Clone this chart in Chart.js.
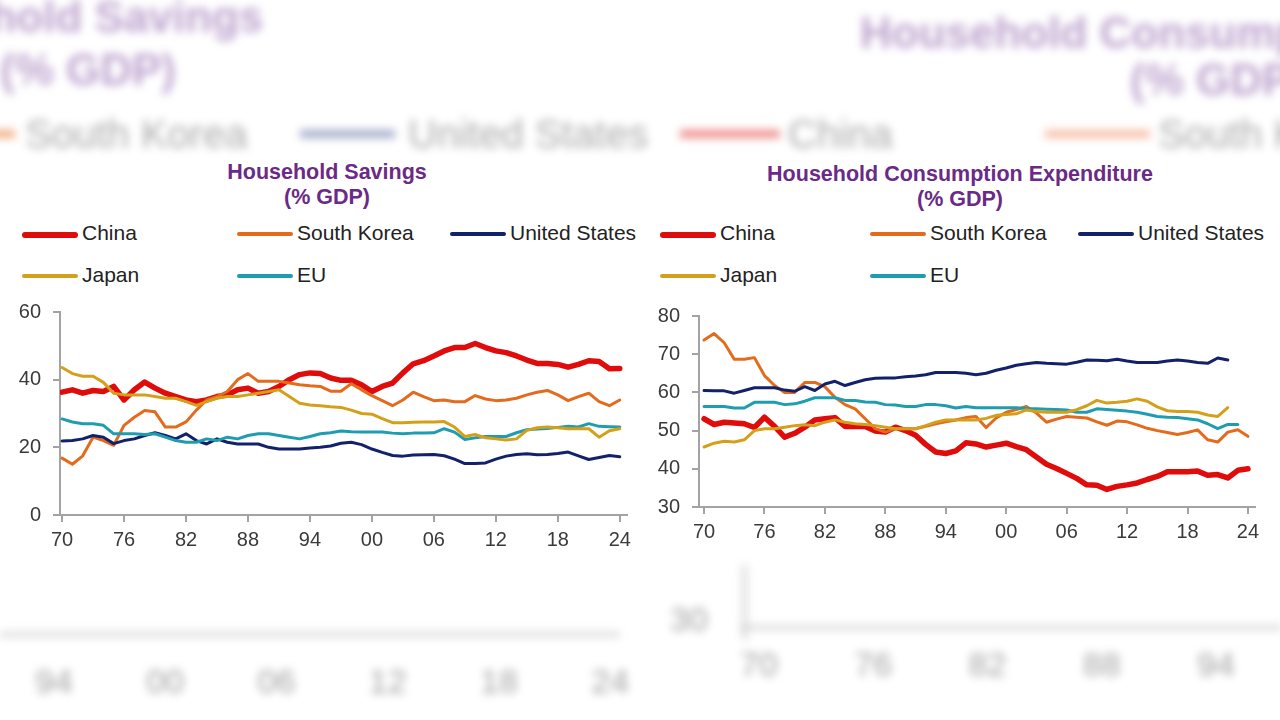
<!DOCTYPE html>
<html>
<head>
<meta charset="utf-8">
<script src="https://cdn.jsdelivr.net/npm/chart.js@4.4.1/dist/chart.umd.min.js"></script>
<style>
  body { margin:0; width:1280px; height:720px; background:#fff; position:relative; overflow:hidden; font-family:'Liberation Sans', Arial, sans-serif; }
  .blur { position:absolute; filter:blur(4px); opacity:0.55; white-space:nowrap; }
  .title { position:absolute; color:#6a2a86; font-weight:bold; font-size:21.5px; text-align:center; line-height:25px; }
  .legend { position:absolute; font-size:21px; color:#222; }
  .legend .item { position:absolute; white-space:nowrap; }
  .legend .swatch { position:absolute; top:-2px; height:5px; border-radius:3px; width:56px; }
  .legend .label { position:absolute; top:-13px; left:60px; }
  .box { position:absolute; }
</style>
</head>
<body>

<!-- blurred background from the original screenshot -->
<div class="blur" style="left:-145px;top:-8px;font-size:44px;font-weight:bold;color:#8a5aa8">Household Savings</div>
<div class="blur" style="left:0px;top:45px;font-size:44px;font-weight:bold;color:#8a5aa8">(% GDP)</div>
<div class="blur" style="left:860px;top:8px;font-size:44px;font-weight:bold;color:#8a5aa8">Household Consumption</div>
<div class="blur" style="left:1130px;top:55px;font-size:44px;font-weight:bold;color:#8a5aa8">(% GDP)</div>
<div class="blur" style="left:-20px;top:130px;width:35px;height:8px;background:#e46c1a"></div>
<div class="blur" style="left:25px;top:112px;font-size:40px;color:#666">South Korea</div>
<div class="blur" style="left:300px;top:130px;width:95px;height:8px;background:#5a6aa0"></div>
<div class="blur" style="left:408px;top:112px;font-size:40px;color:#666">United States</div>
<div class="blur" style="left:680px;top:130px;width:100px;height:8px;background:#e03030"></div>
<div class="blur" style="left:788px;top:112px;font-size:40px;color:#666">China</div>
<div class="blur" style="left:1045px;top:130px;width:105px;height:8px;background:#f08a60"></div>
<div class="blur" style="left:1158px;top:112px;font-size:40px;color:#666">South Korea</div>
<div class="blur" style="left:0px;top:632px;width:620px;height:5px;background:#bbb"></div>
<div class="blur" style="left:35px;top:662px;font-size:34px;color:#555;word-spacing:64px">94 00 06 12 18 24</div>
<div class="blur" style="left:742px;top:565px;width:5px;height:75px;background:#bbb"></div>
<div class="blur" style="left:742px;top:625px;width:540px;height:5px;background:#bbb"></div>
<div class="blur" style="left:670px;top:600px;font-size:34px;color:#555">30</div>
<div class="blur" style="left:740px;top:645px;font-size:34px;color:#555;word-spacing:67px">70 76 82 88 94</div>

<div class="title" style="left:127px;top:160px;width:400px">Household Savings<br>(% GDP)</div>
<div class="title" style="left:710px;top:162px;width:500px">Household Consumption Expenditure<br>(% GDP)</div>
<div class="legend" id="legendL" style="left:22px;top:234px"></div>
<div class="legend" id="legendR" style="left:660px;top:234px"></div>

<div class="box" style="left:0;top:288px;width:645px;height:272px"><canvas id="savingsChart"></canvas></div>
<div class="box" style="left:655px;top:292px;width:625px;height:268px"><canvas id="consumptionChart"></canvas></div>

<script>
// Years 1970..2024
const years = [1970,1971,1972,1973,1974,1975,1976,1977,1978,1979,1980,1981,1982,1983,1984,1985,1986,1987,1988,1989,
  1990,1991,1992,1993,1994,1995,1996,1997,1998,1999,2000,2001,2002,2003,2004,2005,2006,2007,2008,2009,
  2010,2011,2012,2013,2014,2015,2016,2017,2018,2019,2020,2021,2022,2023,2024];
const tickYears = [1970,1976,1982,1988,1994,2000,2006,2012,2018,2024];
const tickLabels = ['70','76','82','88','94','00','06','12','18','24'];

const seriesNames = ['China','South Korea','United States','Japan','EU'];
const seriesColors = ['#e00b0b','#e46a1c','#13216a','#d4a01a','#1f9db0'];
const seriesWidths = [5.5,3,3,3,3];

// Household savings (% GDP)
const savChina = [36.3,37,36,36.8,36.5,38,34,37,39.3,37.5,36,35,34,33.5,34,35,35.5,37,37.5,36,
  36.5,38,40,41.5,42,41.8,40.5,39.8,39.8,38.5,36.5,38,39,42,44.7,45.6,47,48.5,49.5,49.5,
  50.7,49.5,48.5,48,47,45.8,44.8,44.8,44.5,43.7,44.5,45.6,45.4,43.2,43.3];
const savKorea = [16.8,15,17.5,23,22,20.6,26.5,28.9,30.9,30.5,26,26,27.5,31,34,35,36.5,40,41.8,39.5,
  39.5,39.5,39,38.5,38.2,38,36.6,36.6,38.8,37,35.3,33.8,32.3,34,36.3,35,33.8,34,33.5,33.5,
  35.3,34.3,33.8,34,34.5,35.5,36.3,36.8,35.5,33.8,35,36,33.5,32.3,34];
const savUS = [21.9,22,22.5,23.5,23,21.1,22,22.5,23.5,24.3,23.5,22.5,24,22,21,22.5,21.5,21,21,21,
  20,19.5,19.5,19.5,19.8,20,20.4,21.2,21.5,20.8,19.5,18.5,17.6,17.4,17.7,17.8,17.9,17.5,16.5,15.2,
  15.2,15.4,16.5,17.4,17.9,18.1,17.8,17.9,18.2,18.6,17.5,16.4,17,17.6,17.2];
const savJapan = [43.6,41.8,41,41,39.2,36,35.5,35.5,35.5,35,34.5,34.5,33.5,32.4,33.5,34.5,35,35,35.5,36,
  36.5,37,35,33,32.5,32.3,32,31.8,31,30,29.8,28.5,27.3,27.3,27.4,27.5,27.5,27.6,26,23.2,
  23.8,22.8,22.5,22.2,22.5,25,25.8,26,25.8,25.5,25.5,25.5,23,24.9,25.5];
const savEU = [28.4,27.5,27,27,26.5,24,24,24,23.8,24,23,22,21.5,21.5,22.5,22,23,22.5,23.5,24,
  24,23.5,23,22.5,23.2,24,24.3,24.8,24.6,24.5,24.5,24.5,24.2,24,24.2,24.2,24.3,25.5,24.5,22.3,
  22.8,23.2,23.2,23.2,24.3,25.2,25.4,25.6,25.9,26.2,26,27,26.2,26.1,26];

// Household consumption expenditure (% GDP)
const conChina = [53.1,51.6,52.2,52,51.8,50.8,53.5,51.1,48.3,49.3,50.9,52.8,53.1,53.4,51.1,51.1,51.1,49.9,49.6,50.9,
  50,48.8,46.4,44.4,44,44.7,46.8,46.5,45.7,46.2,46.7,45.8,45,43.1,41.2,40.1,38.8,37.5,35.8,35.7,
  34.6,35.4,35.8,36.3,37.2,38,39.2,39.2,39.2,39.4,38.3,38.5,37.6,39.6,40];
const conKorea = [73.7,75.4,73,68.7,68.7,69.1,64.4,61.8,60,60,62.6,62.6,61.5,58.7,56.8,55.7,53.1,50.5,49.6,50.5,
  50.5,50.5,51.1,51.8,52.3,52.8,53.4,53.7,50.8,53.3,54.8,55.5,56.3,54.6,52.2,53,53.7,53.5,53.3,52.3,
  51.4,52.5,52.3,51.5,50.6,50,49.5,49,49.5,50.2,47.6,47,49.6,50.2,48.5];
const conUS = [60.5,60.4,60.4,59.8,60.5,61.2,61.2,61.2,60.6,60.3,61.5,60.5,62.2,62.9,61.8,62.6,63.3,63.7,63.8,63.8,
  64.1,64.3,64.6,65.2,65.2,65.2,65,64.6,65,65.8,66.4,67.1,67.5,67.8,67.6,67.5,67.4,67.9,68.5,68.4,
  68.3,68.7,68.2,67.8,67.8,67.8,68.2,68.5,68.2,67.8,67.6,69,68.5,null,null];
const conJapan = [45.7,46.7,47.2,47,47.6,50,50.5,50.5,50.9,51.3,51.5,51.3,52.2,52.8,52.2,51.8,51.6,51.3,50.9,50.5,
  50.5,50.5,51.3,52.2,52.8,52.8,52.8,52.8,53.2,54,54.2,54.4,55.4,55,54.8,54.8,54.8,55.5,56.5,57.9,
  57.2,57.4,57.7,58.3,57.7,56.2,55.2,55,55,54.8,54.1,53.7,56,null,null];
const conEU = [56.3,56.3,56.3,55.9,55.9,57.4,57.4,57.4,56.8,57,57.7,58.6,58.6,58.6,57.9,57.9,57.5,57.4,56.8,56.7,
  56.3,56.3,56.8,56.8,56.5,55.9,56.3,56,56,56,56,56,55.8,55.7,55.6,55.5,55.4,54.8,54.8,55.7,
  55.5,55.3,55.1,54.8,54.3,53.7,53.5,53.4,53.1,52.8,51.8,50.5,51.6,51.6,null];

// draw order: thin lines first, China on top
const drawOrder = [3,4,2,1,0];

function buildLegend(id) {
  const el = document.getElementById(id);
  const slots = [[0,0],[215,0],[428,0],[0,42],[215,42]];
  if (id === 'legendR') { slots[1] = [210,0]; slots[2] = [418,0]; slots[4] = [210,42]; }
  seriesNames.forEach((name, i) => {
    const d = document.createElement('div');
    d.className = 'item';
    d.style.left = slots[i][0] + 'px';
    d.style.top = slots[i][1] + 'px';
    d.innerHTML = '<div class="swatch" style="background:' + seriesColors[i] + ';height:' + (i === 0 ? 6 : 4) + 'px"></div>' +
      '<div class="label">' + name + '</div>';
    el.appendChild(d);
  });
}
buildLegend('legendL');
buildLegend('legendR');

function makeChart(canvasId, seriesData, opts) {
  const axisColor = '#a3a3a3';
  const tickFont = { family: "'Liberation Sans', Arial, sans-serif", size: 20 };
  return new Chart(document.getElementById(canvasId).getContext('2d'), {
    type: 'line',
    data: {
      datasets: drawOrder.map(i => ({
        label: seriesNames[i],
        data: years.map((y, k) => ({ x: y, y: seriesData[i][k] })),
        borderColor: seriesColors[i],
        borderWidth: seriesWidths[i],
        pointRadius: 0,
        tension: 0,
        borderJoinStyle: 'round',
        borderCapStyle: 'round',
        spanGaps: false
      }))
    },
    options: {
      responsive: true,
      maintainAspectRatio: false,
      animation: false,
      events: [],
      layout: { padding: opts.padding },
      plugins: { legend: { display: false }, title: { display: false }, tooltip: { enabled: false } },
      scales: {
        x: {
          type: 'linear',
          min: opts.xMin,
          max: opts.xMax,
          afterBuildTicks: s => { s.ticks = tickYears.map(v => ({ value: v })); },
          afterFit: s => { s.height = opts.xHeight; },
          ticks: { callback: (v, idx) => tickLabels[idx], font: tickFont, color: '#3a3a3a', padding: 6, maxRotation: 0, autoSkip: false },
          grid: { drawOnChartArea: false, tickLength: 7, color: axisColor, lineWidth: 2 },
          border: { color: axisColor, width: 2 }
        },
        y: {
          min: opts.yMin,
          max: opts.yMax,
          afterFit: s => { s.width = opts.yWidth; },
          ticks: { stepSize: opts.yStep, font: tickFont, color: '#3a3a3a', padding: 12 },
          grid: { drawOnChartArea: false, tickLength: 7, color: axisColor, lineWidth: 2 },
          border: { color: axisColor, width: 2 }
        }
      }
    }
  });
}

makeChart('savingsChart', [savChina, savKorea, savUS, savJapan, savEU], {
  xMin: 1969.8, xMax: 2024.7, yMin: 0, yMax: 60, yStep: 20,
  padding: { top: 0, right: 18, left: 0, bottom: 0 }, yWidth: 60, xHeight: 45
});

makeChart('consumptionChart', [conChina, conKorea, conUS, conJapan, conEU], {
  xMin: 1969.5, xMax: 2024.7, yMin: 30, yMax: 80, yStep: 10,
  padding: { top: 0, right: 25, left: 0, bottom: 0 }, yWidth: 44, xHeight: 53
});
</script>
</body>
</html>
